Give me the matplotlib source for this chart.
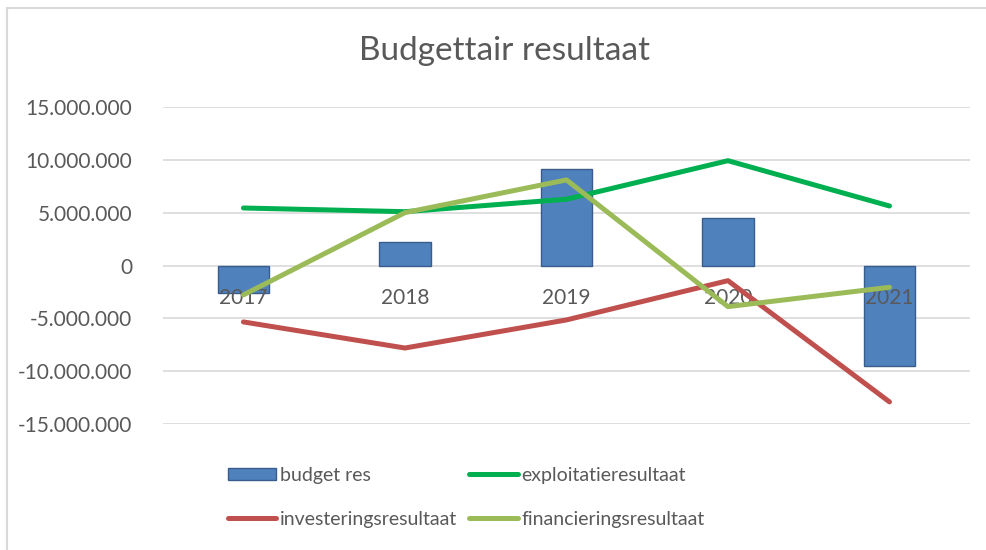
import numpy as np
import matplotlib
matplotlib.use("Agg")
import matplotlib.pyplot as plt
from matplotlib.lines import Line2D
from matplotlib.ticker import FuncFormatter

# data
years = ["2017", "2018", "2019", "2020", "2021"]
budget_res = [-2610000, 2270000, 9160000, 4550000, -9470000]
exploitatie = [5460000, 5110000, 6290000, 9940000, 5650000]
investering = [-5330000, -7800000, -5140000, -1420000, -12900000]
financiering = [-2770000, 5020000, 8120000, -3880000, -2050000]
y_ticks = [-15000000, -10000000, -5000000, 0, 5000000, 10000000, 15000000]

plt.rcParams['font.family'] = ['Lato', 'DejaVu Sans']
text_col = '#595959'
lw = 3.6

fig = plt.figure(figsize=(9.86, 5.5), dpi=100)
ax = fig.add_axes([0.165, 0.229, 0.819, 0.576])

x = np.arange(len(years))

# gridlines at the bottom, category labels above the bars
for t in y_ticks:
    ax.axhline(t, color='#d9d9d9', linewidth=1.2, zorder=0)

ax.bar(x, budget_res, width=0.32, color='#4f81bd', edgecolor='#385d8a',
       linewidth=1, zorder=2)
ax.plot(x, exploitatie, color='#00b050', linewidth=lw, solid_capstyle='round',
        solid_joinstyle='round', zorder=3)
ax.plot(x, investering, color='#c0504d', linewidth=lw, solid_capstyle='round',
        solid_joinstyle='round', zorder=3)
ax.plot(x, financiering, color='#9bbb59', linewidth=lw, solid_capstyle='round',
        solid_joinstyle='round', zorder=3)

ax.set_xlim(-0.5, len(years) - 0.5)
ax.set_ylim(y_ticks[0], y_ticks[-1])
ax.set_yticks(y_ticks)
ax.yaxis.set_major_formatter(FuncFormatter(
    lambda v, p: f"{int(v):,}".replace(",", ".")))
ax.tick_params(axis='y', length=0, pad=22, labelsize=15, labelcolor=text_col)

# category labels sit just under the zero line, like Excel
ax.set_xticks(x)
ax.set_xticklabels(years)
ax.spines['bottom'].set_position(('data', 0))
ax.tick_params(axis='x', length=0, pad=16, labelsize=15, labelcolor=text_col)
ax.xaxis.set_zorder(2.5)
for s in ['top', 'right', 'left', 'bottom']:
    ax.spines[s].set_visible(False)

fig.text(0.512, 1 - 51 / 550, 'Budgettair resultaat', ha='center',
         va='center', fontsize=24, color=text_col)

# matplotlib fills legend columns first, so order for Excel's row layout
handles = [
    plt.Rectangle((0, 0), 1, 1, facecolor='#4f81bd', edgecolor='#385d8a'),
    Line2D([], [], color='#c0504d', linewidth=lw, solid_capstyle='round'),
    Line2D([], [], color='#00b050', linewidth=lw, solid_capstyle='round'),
    Line2D([], [], color='#9bbb59', linewidth=lw, solid_capstyle='round'),
]
labels = ['budget res', 'investeringsresultaat', 'exploitatieresultaat',
          'financieringsresultaat']
fig.legend(handles, labels, loc='center', bbox_to_anchor=(0.473, 0.096),
           ncol=2, frameon=False, fontsize=14, labelcolor=text_col,
           handlelength=2.5, handleheight=0.55, handletextpad=0.2,
           columnspacing=0.6, labelspacing=1.4)

# light chart border (top and left edges visible)
fig.add_artist(Line2D([7 / 986, 1], [1 - 8 / 550, 1 - 8 / 550],
                      transform=fig.transFigure, color='#d9d9d9', linewidth=1.5))
fig.add_artist(Line2D([7 / 986, 7 / 986], [0, 1 - 8 / 550],
                      transform=fig.transFigure, color='#d9d9d9', linewidth=1.5))

fig.savefig('out.png', dpi=100)
